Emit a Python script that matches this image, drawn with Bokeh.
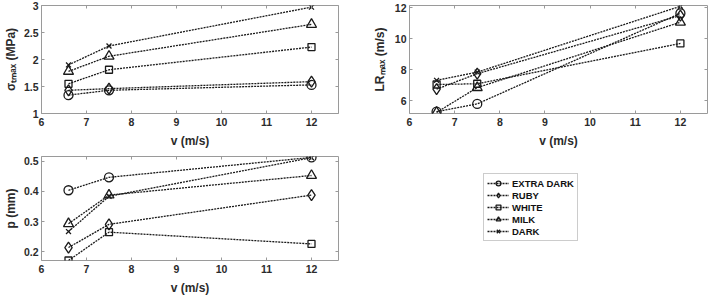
from bokeh.embed import file_html
from bokeh.layouts import column, row
from bokeh.models import (CustomLabelingPolicy, FixedTicker, Legend,
                          LegendItem, LinearAxis, Range1d)
from bokeh.plotting import figure
from bokeh.resources import INLINE

# impact speed (m/s)
speed = [6.6, 7.5, 12.0]
x_ticks = [6, 7, 8, 9, 10, 11, 12]

series_names = ["EXTRA DARK", "RUBY", "WHITE", "MILK", "DARK"]

# maximum tensile stress (MPa)
stress_extra_dark = [1.34, 1.43, 1.53]
stress_ruby = [1.43, 1.46, 1.59]
stress_white = [1.55, 1.81, 2.23]
stress_milk = [1.78, 2.06, 2.65]
stress_dark = [1.90, 2.25, 2.97]
stress_ticks = [1, 1.5, 2, 2.5, 3]

# maximum LR (m/s)
lr_extra_dark = [5.30, 5.80, 11.65]
lr_ruby = [6.75, 7.75, 11.50]
lr_white = [7.05, 7.10, 9.70]
lr_milk = [5.25, 6.85, 11.07]
lr_dark = [7.32, 7.85, 12.10]
lr_ticks = [6, 8, 10, 12]

# p (mm)
p_extra_dark = [0.404, 0.447, 0.513]
p_ruby = [0.214, 0.291, 0.388]
p_white = [0.171, 0.265, 0.226]
p_milk = [0.293, 0.388, 0.453]
p_dark = [0.267, 0.384, 0.512]
p_ticks = [0.2, 0.3, 0.4, 0.5]

FONT = "Liberation Sans"
INK = "#1a1a1a"
TEXT = "#2b2b2b"
BOX = "#9a9a9a"

MARKERS = {
    "EXTRA DARK": ("circle", 9),
    "RUBY": ("diamond", 11),
    "WHITE": ("square", 7),
    "MILK": ("triangle", 10),
    "DARK": ("x", 7),
}

# the mirrored top/right axes carry ticks only
NO_LABELS = CustomLabelingPolicy(code="""
for (const i of indices) indices.unset(i)
return indices
""")


def style_axis(ax, ticks, show_labels=True):
    ax.ticker = FixedTicker(ticks=ticks)
    ax.axis_line_color = None
    ax.major_tick_in = 3
    ax.major_tick_out = 0
    ax.major_tick_line_color = BOX
    ax.minor_tick_line_color = None
    ax.major_label_text_font = FONT
    ax.major_label_text_font_style = "bold"
    ax.major_label_text_color = TEXT
    if show_labels:
        ax.major_label_text_font_size = "10.5px"
        ax.major_label_standoff = 3
    else:
        ax.major_label_text_font_size = "0px"
        ax.major_label_standoff = 0
        ax.major_label_policy = NO_LABELS
    ax.axis_label_text_font = FONT
    ax.axis_label_text_font_style = "bold"
    ax.axis_label_text_font_size = "12px"
    ax.axis_label_text_color = TEXT


def make_panel(width, height, y_range, y_ticks, borders, y_label, y_standoff):
    left, right, top, bottom = borders
    p = figure(
        width=width, height=height,
        x_range=Range1d(6, 12.6), y_range=Range1d(*y_range),
        output_backend="svg", toolbar_location=None,
        min_border_left=left, min_border_right=right,
        min_border_top=top, min_border_bottom=bottom,
    )
    p.grid.visible = False
    p.outline_line_color = BOX
    p.outline_line_width = 1
    style_axis(p.xaxis[0], x_ticks)
    style_axis(p.yaxis[0], y_ticks)
    p.xaxis[0].axis_label = "v (m/s)"
    p.xaxis[0].major_label_standoff = 4
    p.xaxis[0].axis_label_standoff = 5
    p.yaxis[0].axis_label = y_label
    p.yaxis[0].axis_label_standoff = y_standoff
    # mirrored ticks on the top and right edges of the box
    top_ax = LinearAxis()
    style_axis(top_ax, x_ticks, show_labels=False)
    p.add_layout(top_ax, "above")
    right_ax = LinearAxis()
    style_axis(right_ax, y_ticks, show_labels=False)
    p.add_layout(right_ax, "right")
    return p


def draw_series(p, values):
    renderers = []
    for name, ys in zip(series_names, values):
        marker, size = MARKERS[name]
        ln = p.line(speed, ys, line_color=INK, line_width=1.3, line_dash="2 1")
        sc = p.scatter(speed, ys, marker=marker, size=size, line_color=INK,
                       line_width=1.3, fill_alpha=0)
        renderers.append((ln, sc))
    return renderers


# maximum tensile stress
p1 = make_panel(360, 151, (1, 3), stress_ticks, (40, 22, 5, 38), "σₜₘₐₓ (MPa)", 3)
draw_series(p1, [stress_extra_dark, stress_ruby, stress_white, stress_milk, stress_dark])

# maximum LR
p2 = make_panel(349, 151, (5.18, 12.15), lr_ticks, (49, 2, 5, 38), "LRₘₐₓ (m/s)", 5)
draw_series(p2, [lr_extra_dark, lr_ruby, lr_white, lr_milk, lr_dark])

# p
p3 = make_panel(360, 146, (0.171, 0.516), p_ticks, (40, 22, 5, 34), "p (mm)", 3)
draw_series(p3, [p_extra_dark, p_ruby, p_white, p_milk, p_dark])

# legend panel (top/bottom borders equal to the neighbouring plot's)
p4 = figure(width=349, height=146, x_range=Range1d(0, 1), y_range=Range1d(0, 1),
            x_axis_type=None, y_axis_type=None, output_backend="svg",
            toolbar_location=None, min_border_left=106, min_border_right=0,
            min_border_top=5, min_border_bottom=34)
p4.grid.visible = False
p4.outline_line_color = None
items = []
for name, (ln, sc) in zip(series_names, draw_series(p4, [[None] * 3] * 5)):
    items.append(LegendItem(label=name, renderers=[ln, sc]))
legend = Legend(
    items=items, location="top_left",
    glyph_width=22, glyph_height=12, label_height=12, label_width=20,
    spacing=0, padding=3, margin=17, label_standoff=3,
    label_text_font=FONT, label_text_font_style="bold",
    label_text_font_size="9.5px", label_text_color="#111111",
    border_line_color=BOX, border_line_width=1,
    background_fill_color="white", background_fill_alpha=1,
)
p4.add_layout(legend)

layout = column(row(p1, p2), row(p3, p4))
open("out.html", "w").write(file_html(layout, INLINE))
